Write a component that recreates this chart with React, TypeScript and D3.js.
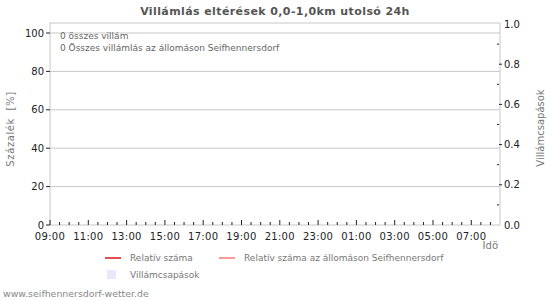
import React from "react";
import * as d3 from "d3";

const title = "Villámlás eltérések 0,0-1,0km utolsó 24h";
const hours = ["09:00","10:00","11:00","12:00","13:00","14:00","15:00","16:00","17:00","18:00","19:00","20:00","21:00","22:00","23:00","00:00","01:00","02:00","03:00","04:00","05:00","06:00","07:00","08:00"];
const strikes = [0,0,0,0,0,0,0,0,0,0,0,0,0,0,0,0,0,0,0,0,0,0,0,0];
const relative: (number | null)[] = hours.map(() => null);
const relativeStation: (number | null)[] = hours.map(() => null);
const leftTicks = [0, 20, 40, 60, 80, 100];
const rightTicks = [0, 0.2, 0.4, 0.6, 0.8, 1.0];
const infoLines = ["0 összes villám", "0 Összes villámlás az állomáson Seifhennersdorf"];

const W = 550, H = 300;
const L = 50, R = 500, T = 23, B = 225;
const font = "DejaVu Sans, sans-serif";

export default function App() {
  const start = new Date(2024, 0, 1, 9, 0);
  const end = new Date(start.getTime() + (R - L) / 19.15 * 3600e3);
  const x = d3.scaleTime().domain([start, end]).range([L, R]);
  const yL = d3.scaleLinear().domain([0, 100]).range([B, 33]);
  const yR = d3.scaleLinear().domain([0, 1]).range([B, 24]);
  const times = hours.map((_, i) => new Date(start.getTime() + i * 3600e3));
  const halfHours = d3.timeMinute.every(30)!.range(start, end);
  const line = d3.line<[Date, number | null]>()
    .defined(d => d[1] != null)
    .x(d => x(d[0]))
    .y(d => yL(d[1] as number));
  const barW = x(times[1]) - x(times[0]) - 2;

  return (
    <svg width={W} height={H} style={{ position: "absolute", left: 0, top: 0, fontFamily: font }}>
      <rect width={W} height={H} fill="#fff" />
      <text x={275} y={15} textAnchor="middle" fontSize={11} fontWeight="bold" fill="#555" letterSpacing={0.4}>{title}</text>
      {/* frame */}
      <rect x={L} y={T} width={R - L} height={B - T} fill="none" stroke="#c8c8c8" />
      {leftTicks.filter(t => t > 0).map(t => (
        <line key={t} x1={L} x2={R} y1={yL(t)} y2={yL(t)} stroke="#c8c8c8" />
      ))}
      {/* bars */}
      {strikes.map((v, i) => (
        <rect key={i} x={x(times[i]) + 1} y={yR(v)} width={barW} height={B - yR(v)} fill="#e8e8ff" />
      ))}
      <path d={line(times.map((t, i) => [t, relative[i]])) || ""} fill="none" stroke="#e05050" strokeWidth={2} />
      <path d={line(times.map((t, i) => [t, relativeStation[i]])) || ""} fill="none" stroke="#ff9a9a" strokeWidth={2} />
      {/* left axis */}
      {leftTicks.map(t => (
        <g key={t}>
          <line x1={L - 4} x2={L} y1={yL(t)} y2={yL(t)} stroke="#222" />
          <text x={L - 6} y={yL(t) + 3.5} textAnchor="end" fontSize={10} fill="#222">{t}</text>
        </g>
      ))}
      <text transform={`translate(14,129) rotate(-90)`} textAnchor="middle" fontSize={10} fill="#777" letterSpacing={0.6}>{"Százalék\u00a0\u00a0[%]"}</text>
      {/* right axis */}
      {rightTicks.map(t => (
        <g key={t}>
          {t > 0 && t < 1 && <line x1={R - 1} x2={R + 2} y1={yR(t)} y2={yR(t)} stroke="#222" />}
          <text x={R + 4} y={yR(t) + 3.5} fontSize={10} fill="#222">{t.toFixed(1)}</text>
        </g>
      ))}
      {d3.range(0.1, 1, 0.2).map(t => (
        <line key={t} x1={R - 3} x2={R - 1} y1={yR(t)} y2={yR(t)} stroke="#222" />
      ))}
      <text transform={`translate(544,128) rotate(-90)`} textAnchor="middle" fontSize={10} fill="#777">Villámcsapások</text>
      {/* x axis */}
      {halfHours.map((t, i) => {
        const major = t.getMinutes() === 0 && (t.getHours() - 9 + 24) % 2 === 0;
        return <line key={i} x1={x(t)} x2={x(t)} y1={B} y2={B - (major ? 5 : 3)} stroke="#222" />;
      })}
      {times.filter((_, i) => i % 2 === 0).map((t, i) => (
        <text key={i} x={x(t)} y={240} textAnchor="middle" fontSize={10} fill="#222" letterSpacing={0.3}>{d3.timeFormat("%H:%M")(t)}</text>
      ))}
      <text x={R - 2} y={249} textAnchor="end" fontSize={10} fill="#777">Idö</text>
      {/* info */}
      {infoLines.map((s, i) => (
        <text key={i} x={60} y={39 + i * 11.5} fontSize={9} fill="#666">{s}</text>
      ))}
      {/* legend */}
      <line x1={105} x2={121} y1={258} y2={258} stroke="#e05050" strokeWidth={2} />
      <text x={130} y={261} fontSize={9} fill="#777">Relatív száma</text>
      <line x1={219} x2={235} y1={258} y2={258} stroke="#ff9a9a" strokeWidth={2} />
      <text x={244} y={261} fontSize={9} fill="#777">Relatív száma az állomáson Seifhennersdorf</text>
      <rect x={107} y={270} width={9} height={9} fill="#e8e8ff" />
      <text x={130} y={278} fontSize={9} fill="#777">Villámcsapások</text>
      <text x={3} y={297} fontSize={9.4} fill="#888">www.seifhennersdorf-wetter.de</text>
    </svg>
  );
}
